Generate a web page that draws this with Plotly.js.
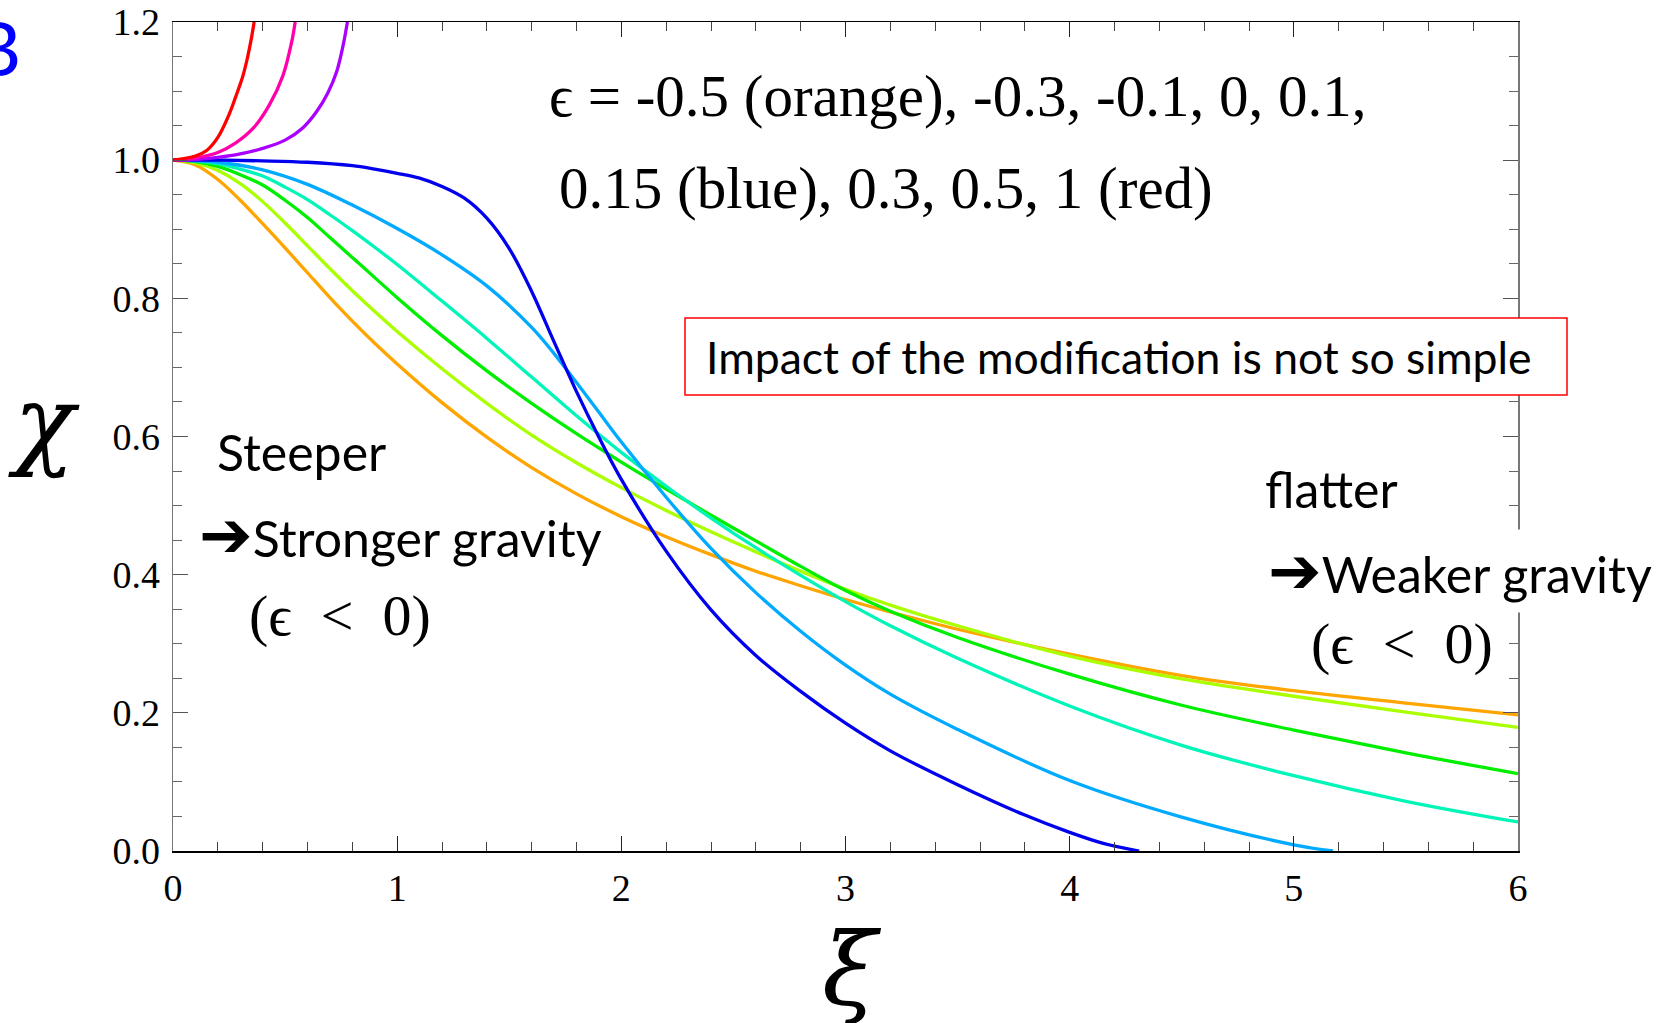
<!DOCTYPE html>
<html>
<head>
<meta charset="utf-8">
<script src="https://cdn.plot.ly/plotly-3.0.1.min.js"></script>
<style>html,body{margin:0;padding:0;background:#fff;}#chart{width:1662px;height:1023px;}</style>
</head>
<body>
<div id="chart"></div>
<script>
// ---- data ----
const epsLabels = ["-0.5", "-0.3", "-0.1", "0", "0.1", "0.15", "0.3", "0.5", "1"];
const colors = ["#FFA500", "#AAFF00", "#00EE00", "#00F5B8", "#00AAFF", "#0000EE", "#AA00FF", "#FF00AA", "#FF0000"];

const xiOrange  = [0,0.1,0.2,0.3,0.4,0.5,0.6,0.7,0.8,0.9,1.0,1.2,1.4,1.6,1.8,2.0,2.2,2.4,2.6,2.8,3.0,3.2,3.5,4.0,4.5,5.0,5.5,6.0];
const chiOrange = [1.0,0.993,0.972,0.942,0.908,0.873,0.837,0.801,0.767,0.735,0.705,0.649,0.599,0.555,0.517,0.484,0.455,0.429,0.405,0.384,0.364,0.346,0.321,0.285,0.254,0.232,0.214,0.197];

const xiYgreen  = [0,0.1,0.2,0.3,0.4,0.5,0.6,0.7,0.8,0.9,1.0,1.2,1.4,1.6,1.8,2.0,2.2,2.4,2.6,2.8,3.0,3.2,3.5,4.0,4.5,5.0,5.5,6.0];
const chiYgreen = [1.0,0.996,0.985,0.966,0.940,0.909,0.876,0.843,0.811,0.781,0.752,0.698,0.648,0.602,0.562,0.526,0.493,0.462,0.433,0.405,0.379,0.356,0.326,0.282,0.249,0.224,0.201,0.179];

const xiGreen   = [0,0.1,0.2,0.3,0.4,0.5,0.6,0.7,0.8,0.9,1.0,1.2,1.4,1.6,1.8,2.0,2.2,2.4,2.6,2.8,3.0,3.2,3.5,4.0,4.5,5.0,5.5,6.0];
const chiGreen  = [1.0,0.998,0.991,0.979,0.964,0.942,0.917,0.888,0.859,0.830,0.801,0.746,0.695,0.648,0.604,0.563,0.524,0.486,0.449,0.412,0.377,0.347,0.309,0.256,0.211,0.175,0.142,0.112];

const xiTurq    = [0,0.1,0.2,0.3,0.4,0.5,0.6,0.7,0.8,0.9,1.0,1.2,1.4,1.6,1.8,2.0,2.2,2.4,2.6,2.8,3.0,3.2,3.5,4.0,4.5,5.0,5.5,6.0];
const chiTurq   = [1.0,0.999,0.995,0.987,0.977,0.961,0.943,0.921,0.898,0.874,0.849,0.796,0.742,0.686,0.630,0.577,0.528,0.482,0.439,0.399,0.361,0.326,0.279,0.210,0.153,0.109,0.072,0.042];

const xiSky     = [0,0.2,0.4,0.6,0.8,1.0,1.2,1.4,1.6,1.7,1.8,1.9,2.0,2.2,2.4,2.6,2.8,3.0,3.2,3.5,4.0,4.5,5.0,5.175];
const chiSky    = [1.0,0.997,0.986,0.965,0.935,0.901,0.863,0.818,0.758,0.720,0.678,0.635,0.592,0.512,0.438,0.374,0.318,0.269,0.227,0.176,0.102,0.049,0.009,0.0];

const xiBlue    = [0,0.2,0.4,0.6,0.8,0.9,1.0,1.1,1.2,1.3,1.4,1.5,1.6,1.7,1.8,1.9,2.0,2.2,2.4,2.6,2.8,3.0,3.2,3.5,3.8,4.0,4.15,4.31];
const chiBlue   = [1.0,1.0,0.999,0.997,0.992,0.987,0.981,0.974,0.962,0.945,0.916,0.872,0.810,0.737,0.665,0.599,0.538,0.434,0.349,0.283,0.231,0.185,0.145,0.096,0.052,0.027,0.011,0.0];

const xiPurple  = [0,0.1,0.2,0.3,0.4,0.5,0.58,0.64,0.69,0.73,0.76,0.778];
const chiPurple = [1.0,1.001,1.004,1.009,1.017,1.029,1.047,1.070,1.097,1.128,1.168,1.2];

const xiMagenta  = [0,0.1,0.2,0.28,0.36,0.43,0.49,0.53,0.545];
const chiMagenta = [1.0,1.003,1.011,1.025,1.047,1.080,1.122,1.172,1.2];

const xiRed     = [0,0.1,0.15,0.2,0.25,0.28,0.31,0.33,0.35,0.362];
const chiRed    = [1.0,1.006,1.014,1.033,1.066,1.092,1.120,1.145,1.177,1.2];

const xTickVals = [0,1,2,3,4,5,6];

// ---- build ----
const series = [
  [xiOrange, chiOrange], [xiYgreen, chiYgreen], [xiGreen, chiGreen], [xiTurq, chiTurq],
  [xiSky, chiSky], [xiBlue, chiBlue], [xiPurple, chiPurple], [xiMagenta, chiMagenta], [xiRed, chiRed]
];
const traces = series.map((s, i) => ({
  x: s[0], y: s[1], type: 'scatter', mode: 'lines', name: 'ε = ' + epsLabels[i],
  line: {color: colors[i], width: 3.3, shape: 'spline', smoothing: 1},
  hoverinfo: 'skip'
}));

const L = 173, R = 1518, T = 22, B = 851;
const px = v => (v - L) / (R - L);
const py = v => (B - v) / (B - T);

const serif = '"Liberation Serif", "Times New Roman", serif';
const sans = 'Lato, "Open Sans", sans-serif';
const arrow = '<span style="font-family:\'DejaVu Sans\';font-size:64px;font-weight:bold">➔</span>';

const ann = (text, x, y, opts) => Object.assign({
  text: text, xref: 'paper', yref: 'paper', x: px(x), y: py(y),
  xanchor: 'left', yanchor: 'middle', showarrow: false, align: 'left',
  font: {family: sans, size: 50, color: '#000'}
}, opts || {});

const annotations = [
  ann('ϵ = -0.5 (orange), -0.3, -0.1, 0, 0.1,', 547, 96, {font: {family: serif, size: 59, color: '#000'}}),
  ann('0.15 (blue), 0.3, 0.5, 1 (red)', 557, 188, {font: {family: serif, size: 59, color: '#000'}}),
  ann('Impact of the modification is not so simple', 704, 357, {font: {family: sans, size: 44.5, color: '#000'}}),
  ann('Steeper', 215, 452),
  ann(arrow + 'Stronger gravity', 197, 535),
  ann('(ϵ\u2002<\u20020)', 247, 615, {font: {family: serif, size: 58, color: '#000'}}),
  ann('flatter', 1263, 489),
  ann(arrow + 'Weaker gravity', 1263, 571, {bgcolor: '#fff', borderpad: 4}),
  ann('(ϵ\u2002<\u20020)', 1309, 643, {font: {family: serif, size: 58, color: '#000'}}),
  ann('B', 23, 47, {xanchor: 'right', font: {family: sans, size: 76, color: '#0000FF'}}),
  ann('<i>χ</i>', 44, 422, {xanchor: 'center', font: {family: '"DejaVu Serif", serif', size: 100, color: '#000'}}),
  ann('<i>ξ</i>', 852, 969, {xanchor: 'center', font: {family: '"DejaVu Serif", serif', size: 100, color: '#000'}})
];

const shapes = [{
  type: 'rect', xref: 'paper', yref: 'paper',
  x0: px(685), x1: px(1567), y0: py(395), y1: py(318),
  line: {color: '#FF0000', width: 1.5}, fillcolor: '#FFFFFF', layer: 'above'
}];

const layout = {
  width: 1662, height: 1023,
  margin: {l: L, r: 1662 - R, t: T, b: 1023 - B, pad: 0},
  paper_bgcolor: '#fff', plot_bgcolor: '#fff',
  showlegend: false,
  xaxis: {
    range: [0, 6], tickvals: xTickVals, ticks: 'inside', ticklen: 15, tickwidth: 1.2, tickcolor: '#222',
    showline: true, linecolor: '#000', linewidth: 1.5, mirror: 'ticks',
    showgrid: false, zeroline: false, ticklabelstandoff: 3,
    tickfont: {family: serif, size: 38, color: '#000'},
    minor: {dtick: 0.2, tick0: 0, ticks: 'inside', ticklen: 9, tickwidth: 1, tickcolor: '#444', showgrid: false}
  },
  yaxis: {
    range: [0, 1.2], dtick: 0.2, tick0: 0, tickformat: '.1f', ticks: 'inside', ticklen: 15, tickwidth: 1.2, tickcolor: '#555',
    showline: true, linecolor: '#777', linewidth: 1.5, mirror: 'ticks',
    showgrid: false, zeroline: false, ticklabelstandoff: 4,
    tickfont: {family: serif, size: 38, color: '#000'},
    minor: {dtick: 0.05, tick0: 0, ticks: 'inside', ticklen: 9, tickwidth: 1, tickcolor: '#666', showgrid: false}
  },
  annotations: annotations,
  shapes: shapes
};

Plotly.newPlot('chart', traces, layout, {staticPlot: true, displayModeBar: false});
</script>
</body>
</html>
